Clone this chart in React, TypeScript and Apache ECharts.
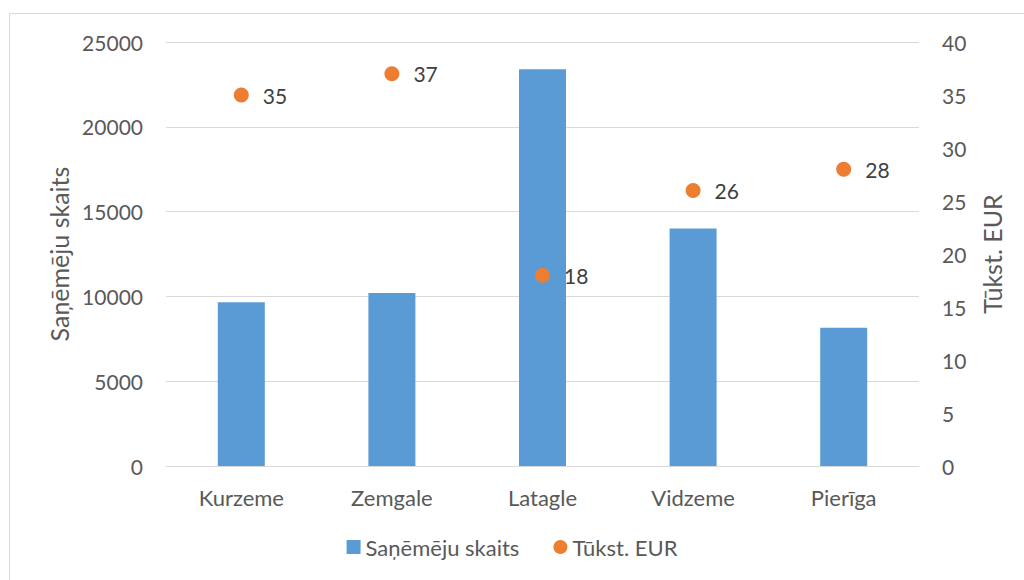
import React, { useEffect, useRef } from "react";
import * as echarts from "echarts";

const categories = ["Kurzeme", "Zemgale", "Latagle", "Vidzeme", "Pierīga"];
const recipients = [9650, 10200, 23400, 14000, 8150];
const thousandEur = [35, 37, 18, 26, 28];
const barName = "Saņēmēju skaits";
const dotName = "Tūkst. EUR";

const FONT = "Lato";
const TXT = "#595959";

export default function App() {
  const ref = useRef<HTMLDivElement>(null);
  useEffect(() => {
    const chart = echarts.init(ref.current!, null, { renderer: "svg" });
    chart.setOption({
      animation: false,
      backgroundColor: "#ffffff",
      textStyle: { fontFamily: FONT },
      graphic: [
        {
          type: "rect",
          shape: { x: 9.5, y: 13.5, width: 1100, height: 700 },
          style: { fill: "none", stroke: "#d9d9d9", lineWidth: 1 },
          silent: true,
        },
      ],
      grid: { left: 166, right: 105, top: 42, bottom: 114 },
      legend: {
        bottom: 17,
        left: "center",
        itemGap: 34,
        itemWidth: 14,
        itemHeight: 14,
        textStyle: { color: TXT, fontSize: 22, fontFamily: FONT },
        data: [
          { name: barName, icon: "rect" },
          { name: dotName, icon: "circle", itemStyle: { opacity: 1 } },
        ],
      },
      xAxis: {
        type: "category",
        data: categories,
        axisLine: { show: true, lineStyle: { color: "#d9d9d9", width: 1 } },
        axisTick: { show: false },
        axisLabel: { color: TXT, fontSize: 22, fontFamily: FONT, margin: 20 },
      },
      yAxis: [
        {
          type: "value",
          min: 0,
          max: 25000,
          interval: 5000,
          name: barName,
          nameLocation: "middle",
          nameGap: 92,
          nameTextStyle: { color: TXT, fontSize: 25, fontFamily: FONT },
          axisLine: { show: false },
          axisTick: { show: false },
          axisLabel: {
            color: TXT,
            fontSize: 21,
            fontFamily: FONT,
            margin: 23,
            formatter: (v: number) => String(v),
          },
          splitLine: { lineStyle: { color: "#d9d9d9", width: 1 } },
        },
        {
          type: "value",
          min: 0,
          max: 40,
          interval: 5,
          name: dotName,
          nameLocation: "middle",
          nameGap: 60,
          nameRotate: 90,
          nameTextStyle: { color: TXT, fontSize: 25, fontFamily: FONT },
          axisLine: { show: false },
          axisTick: { show: false },
          axisLabel: { color: TXT, fontSize: 21, fontFamily: FONT, margin: 23 },
          splitLine: { show: false },
        },
      ],
      series: [
        {
          name: barName,
          type: "bar",
          data: recipients,
          barWidth: 47,
          itemStyle: { color: "#5b9bd5" },
        },
        {
          name: dotName,
          type: "scatter",
          yAxisIndex: 1,
          data: thousandEur,
          symbolSize: 15,
          itemStyle: { color: "#ed7d31", opacity: 1 },
          label: {
            show: true,
            position: "right",
            distance: 14,
            color: "#404040",
            fontSize: 21,
            fontFamily: FONT,
          },
        },
      ],
    });
    return () => chart.dispose();
  }, []);
  return (
    <div
      ref={ref}
      style={{ position: "absolute", left: 0, top: 0, width: 1024, height: 580 }}
    />
  );
}
